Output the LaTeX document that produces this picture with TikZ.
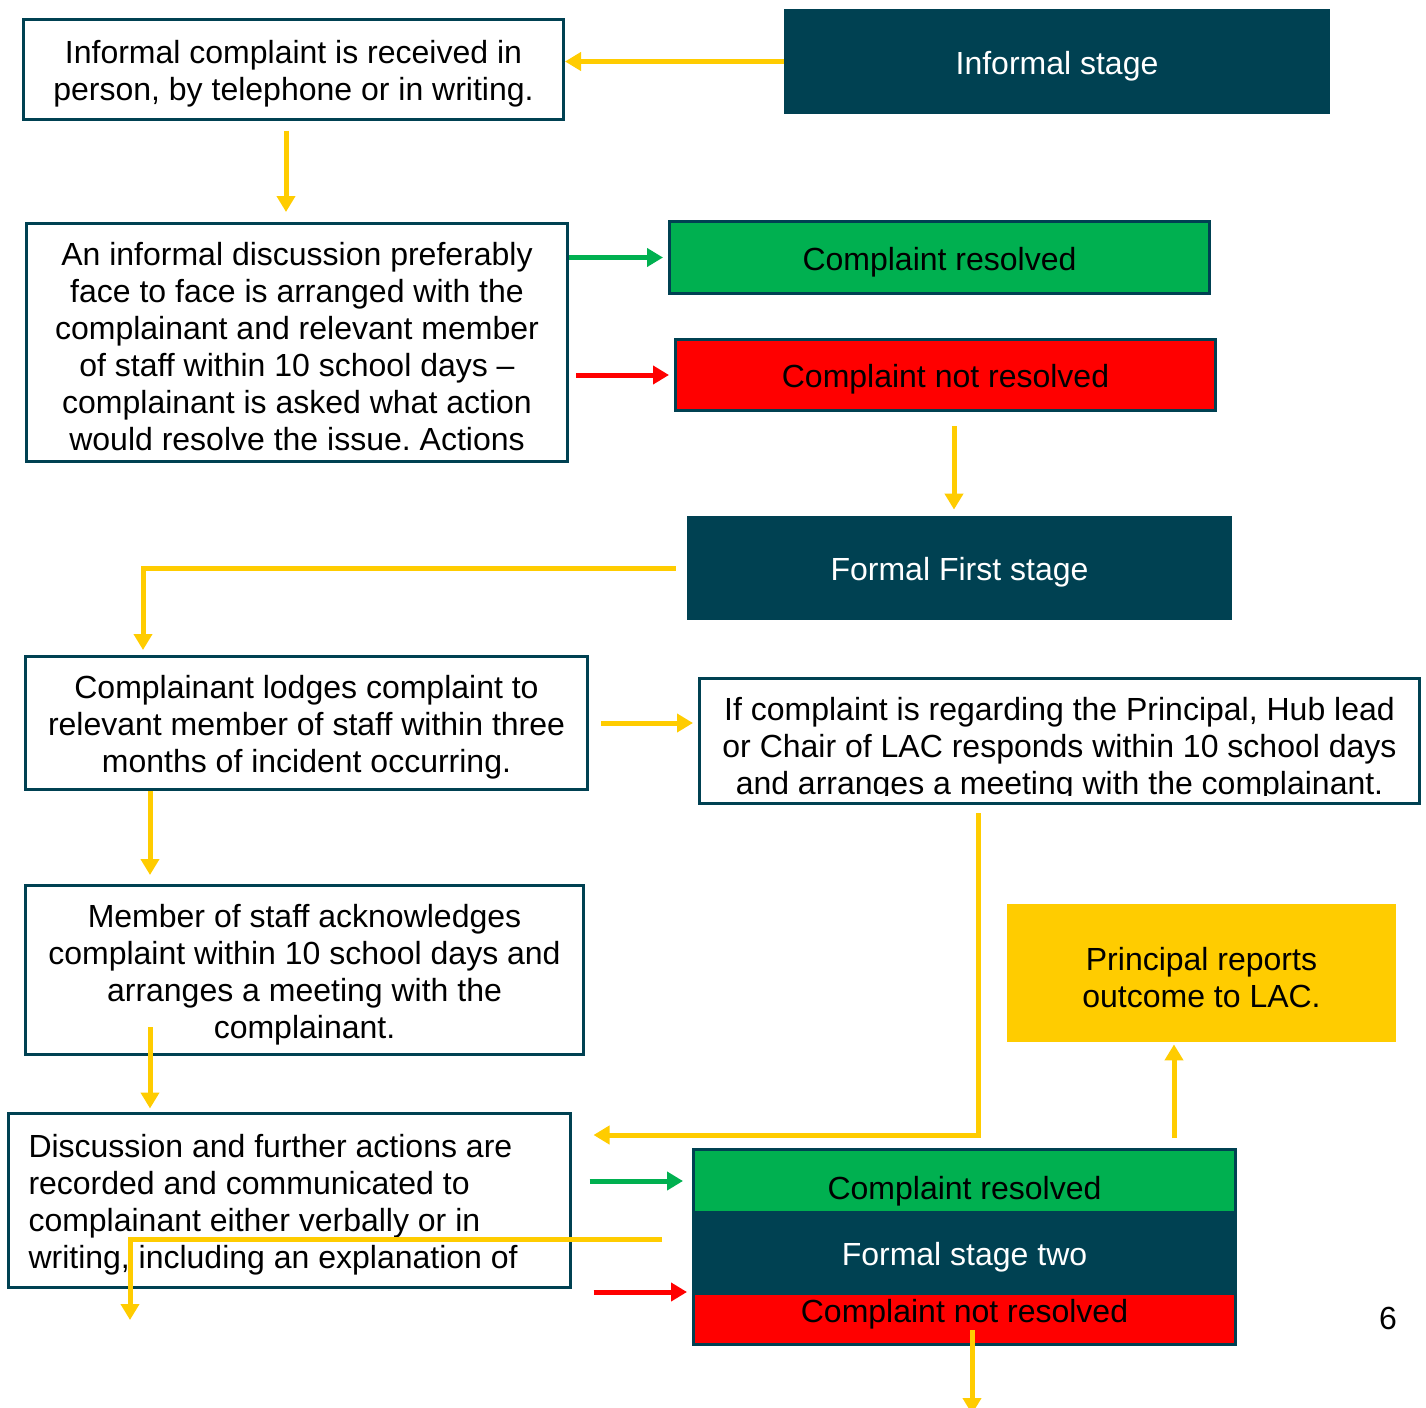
\documentclass[tikz,border=0pt]{standalone}
\usepackage{fontspec}
\setmainfont{Liberation Sans}
\frenchspacing
\usetikzlibrary{arrows.meta,positioning}
\definecolor{stageteal}{RGB}{0,65,82}
\definecolor{okgreen}{RGB}{0,176,80}
\definecolor{flagred}{RGB}{255,0,0}
\definecolor{linkyellow}{RGB}{255,204,0}

\begin{document}
\begin{tikzpicture}[x=0.5pt,y=-0.5pt]
\tikzset{every node/.style={font={\fontsize{16pt}{18.5pt}\selectfont}, inner sep=0pt, align=flush center,
    execute at begin node={\rule{0pt}{16pt}}},
  infobox/.style={draw=stageteal, line width=1.5pt, fill=white},
  stagebox/.style={fill=stageteal, text=white},
  resbox/.style={draw=stageteal, line width=1.5pt, fill=okgreen},
  nresbox/.style={draw=stageteal, line width=1.5pt, fill=flagred},
  ylink/.style={draw=linkyellow, line width=2.5pt, -{Triangle[length=8pt,width=9pt]}},
  glink/.style={ylink, draw=okgreen},
  rlink/.style={ylink, draw=flagred}}
\useasboundingbox (0,0) rectangle (1426,1408);

% informal stage
\node[infobox, text width=260pt, minimum width=270pt, minimum height=50pt] (recv) at (293.5,69.5)
  {Informal complaint is received in\\person, by telephone or in writing.};
\node[stagebox, minimum width=273pt, minimum height=52.5pt] (informal) at (1057,61.5) {Informal stage};
\node[infobox, text width=260pt, minimum width=270.5pt, minimum height=119pt] (discuss) at (297,342.5)
  {An informal discussion preferably\\face to face is arranged with the\\complainant and relevant member\\of staff within 10 school days –\\complainant is asked what action\\would resolve the issue. Actions};
\node[resbox, minimum width=270pt, minimum height=36pt] (res1) at (939.5,257.5) {Complaint resolved};
\node[nresbox, minimum width=270pt, minimum height=35.5pt] (nres1) at (945.5,375) {Complaint not resolved};

% formal first stage
\node[stagebox, minimum width=272.5pt, minimum height=52pt] (formal1) at (959.5,568) {Formal First stage};
\node[infobox, text width=272pt, minimum width=281pt, minimum height=66.5pt] (lodge) at (306.5,723)
  {Complainant lodges complaint to\\relevant member of staff within three\\months of incident occurring.};
\node[infobox, minimum width=360pt, minimum height=62.5pt] (regard) at (1059.5,741) {};
\begin{scope}
\clip (700,679) rectangle (1420,795);
\node[text width=352pt] (regardtxt) at (1059.5,745)
  {If complaint is regarding the Principal, Hub lead\\or Chair of LAC responds within 10 school days\\and arranges a meeting with the complainant.};
\end{scope}
\node[infobox, text width=272pt, minimum width=279pt, minimum height=84.5pt] (ack) at (304.5,970)
  {Member of staff acknowledges\\complaint within 10 school days and\\arranges a meeting with the\\complainant.};
\node[fill=linkyellow, text width=180pt, minimum width=194.5pt, minimum height=69pt] (outcome) at (1201.5,973)
  {Principal reports\\outcome to LAC.};
\node[infobox, align=flush left, text width=261pt, inner xsep=10pt, minimum height=87pt] (record) at (289.5,1200)
  {Discussion and further actions are\\recorded and communicated to\\complainant either verbally or in\\writing, including an explanation of};

% formal stage two
\node[resbox, minimum width=271pt, minimum height=31.5pt] (res2) at (964.5,1181) {};
\node[nresbox, minimum width=271pt, minimum height=25.5pt] (nres2) at (964.5,1319) {};
\node[stagebox, minimum width=272.5pt, minimum height=41pt] (formal2) at (964.5,1253) {Formal stage two};
\node (res2txt) at (964.5,1187) {Complaint resolved};
\node (nres2txt) at (964.5,1310) {Complaint not resolved};
\node (pagenum) at (1388,1314) {6};

\coordinate (ackfoot) at (150,1027);
\coordinate (loopin) at (662,1239);
\coordinate (loopout) at (130,1320);
\coordinate (nres2foot) at (972,1330);
\coordinate (pageedge) at (972,1414);

\draw[ylink] (informal.west) -- (informal.west -| recv.east);
\draw[ylink, shorten <=4.75pt, shorten >=5pt] ([xshift=-3.75pt]recv.south) -- ([xshift=-3.75pt]recv.south |- discuss.north);
\draw[glink, shorten >=2.5pt] (discuss.east |- res1.west) -- (res1.west);
\draw[rlink, shorten <=3.5pt, shorten >=2.5pt] (discuss.east |- nres1.west) -- (nres1.west);
\draw[ylink, shorten <=7pt, shorten >=3pt] ([xshift=4.25pt]nres1.south) -- ([xshift=4.25pt]nres1.south |- formal1.north);
\draw[ylink, shorten <=5.5pt, shorten >=2.5pt] (formal1.west) -| ([xshift=-81.75pt]lodge.north);
\draw[ylink, shorten <=6pt, shorten >=2.5pt] (lodge.east) -- (lodge.east -| regard.west);
\draw[ylink, shorten >=4.5pt] ([xshift=-78.25pt]lodge.south) -- ([xshift=-78.25pt]lodge.south |- ack.north);
\draw[ylink, shorten >=1.5pt] (ackfoot) -- (ackfoot |- record.north);
\draw[ylink, shorten <=4pt, shorten >=10.75pt] ([xshift=-40.75pt]regard.south) |- ([yshift=32.5pt]record.east);
\draw[ylink, shorten <=5pt, shorten >=1pt] ([xshift=104.75pt]res2.north) -- ([xshift=104.75pt]res2.north |- outcome.south);
\draw[glink, shorten <=8.75pt, shorten >=4.5pt] (record.east |- res2.west) -- (res2.west);
\draw[ylink] (loopin) -| (loopout);
\draw[rlink, shorten <=10.75pt, shorten >=2.5pt] (record.east |- nres2.north west) -- (nres2.north west);
\draw[ylink] (nres2foot) -- (pageedge);
\end{tikzpicture}
\end{document}
